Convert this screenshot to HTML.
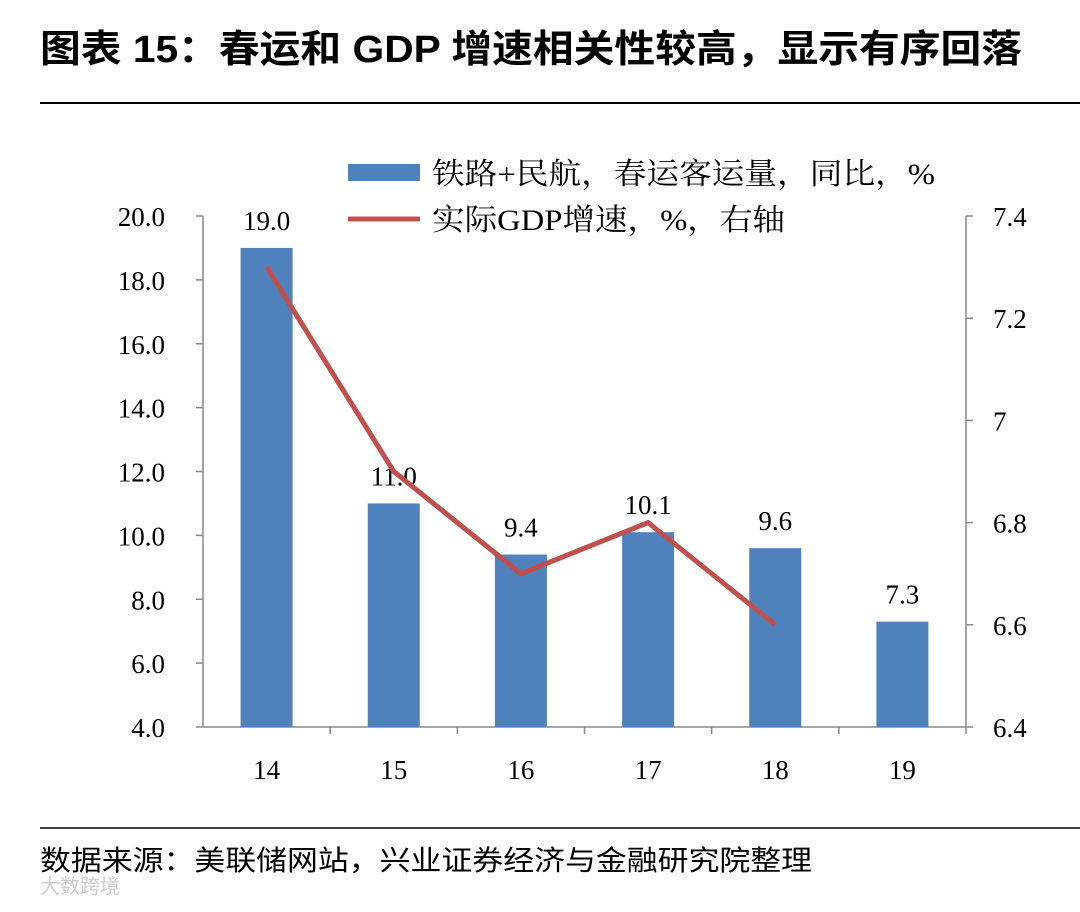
<!DOCTYPE html>
<html><head><meta charset="utf-8"><style>
body{margin:0;background:#fff;}
svg text{font-family:"Liberation Serif","Noto Serif CJK SC",serif;}
</style></head><body>
<svg width="1080" height="907" xmlns="http://www.w3.org/2000/svg" id="chart">
<text x="40" y="62" font-size="38" font-weight="bold" textLength="982" lengthAdjust="spacingAndGlyphs" style="font-family:'Liberation Sans','Noto Sans CJK SC',sans-serif">图表 15：春运和 GDP 增速相关性较高，显示有序回落</text>
<line x1="40" y1="103" x2="1080" y2="103" stroke="#000" stroke-width="2"/>
<g id="plot"></g>
<rect x="348" y="164" width="72" height="17" fill="#4f81bd"/>
<text x="432" y="184" font-size="30" textLength="503" lengthAdjust="spacingAndGlyphs">铁路+民航，春运客运量，同比，%</text>
<line x1="348" y1="219" x2="420" y2="219" stroke="#c0504d" stroke-width="5"/>
<text x="432" y="230" font-size="30" textLength="353" lengthAdjust="spacingAndGlyphs">实际GDP增速，%，右轴</text>
<line x1="40" y1="828" x2="1080" y2="828" stroke="#000" stroke-width="1.5"/>
<text x="40" y="870" font-size="28" textLength="772" lengthAdjust="spacingAndGlyphs" style="font-family:'Liberation Sans','Noto Sans CJK SC',sans-serif">数据来源：美联储网站，兴业证券经济与金融研究院整理</text>
<text x="40" y="893" font-size="20" fill="#ccc" style="font-family:'Liberation Sans','Noto Sans CJK SC',sans-serif">大数跨境</text>
</svg>
<script>
const categories=["14","15","16","17","18","19"];
const barValues=[19.0,11.0,9.4,10.1,9.6,7.3];
const barLabels=["19.0","11.0","9.4","10.1","9.6","7.3"];
const gdpValues=[7.3,6.9,6.7,6.8,6.6];
const leftTicks=[4,6,8,10,12,14,16,18,20];
const rightTicks=[6.4,6.6,6.8,7.0,7.2,7.4];
const rightTickLabels=["6.4","6.6","6.8","7","7.2","7.4"];
const NS="http://www.w3.org/2000/svg";
const g=document.getElementById('plot');
const X0=203,X1=966,Y0=727,Y1=216;
const yL=v=>Y0-(v-4)/16*(Y0-Y1);
const yR=v=>Y0-(v-6.4)/1.0*(Y0-Y1);
const bw=(X1-X0)/categories.length;
const xc=i=>X0+bw*(i+0.5);
function mk(t,a){const e=document.createElementNS(NS,t);for(const k in a)e.setAttribute(k,a[k]);g.appendChild(e);return e;}
let e;
e=mk('line',{x1:X0,y1:Y1,x2:X0,y2:Y0,stroke:'#888','stroke-width':1.5});


e=mk('line',{x1:X1,y1:Y1,x2:X1,y2:Y0,stroke:'#888','stroke-width':1.5});


e=mk('line',{x1:X0,y1:Y0,x2:X1,y2:Y0,stroke:'#888','stroke-width':1.5});


leftTicks.forEach(v=>{
 e=mk('line',{x1:X0-7,y1:yL(v),x2:X0,y2:yL(v),stroke:'#888','stroke-width':1.5});
 
 
 e=mk('text',{x:165,y:yL(v)+10,'font-size':27,'text-anchor':'end'});e.textContent=v.toFixed(1);
 
 
});
rightTicks.forEach((v,i)=>{
 e=mk('line',{x1:X1,y1:yR(v),x2:X1+7,y2:yR(v),stroke:'#888','stroke-width':1.5});
 
 
 e=mk('text',{x:993,y:yR(v)+10,'font-size':27});e.textContent=rightTickLabels[i];
 
 
});
categories.forEach((c,i)=>{
 e=mk('line',{x1:X0+bw*(i+1),y1:Y0,x2:X0+bw*(i+1),y2:Y0+7,stroke:'#888','stroke-width':1.5});
 
 
 e=mk('text',{x:xc(i),y:779,'font-size':27,'text-anchor':'middle'});e.textContent=c;
 
 
 const v=barValues[i];
 e=mk('rect',{x:xc(i)-26,y:yL(v),width:52,height:Y0-yL(v),fill:'#4f81bd'});
 
 
 e=mk('text',{x:xc(i),y:yL(v)-18,'font-size':27,'text-anchor':'middle'});e.textContent=barLabels[i];
 
 
});
e=mk('polyline',{points:gdpValues.map((v,i)=>xc(i)+','+yR(v)).join(' '),fill:'none',stroke:'#c0504d','stroke-width':5});


</script>
</body></html>
